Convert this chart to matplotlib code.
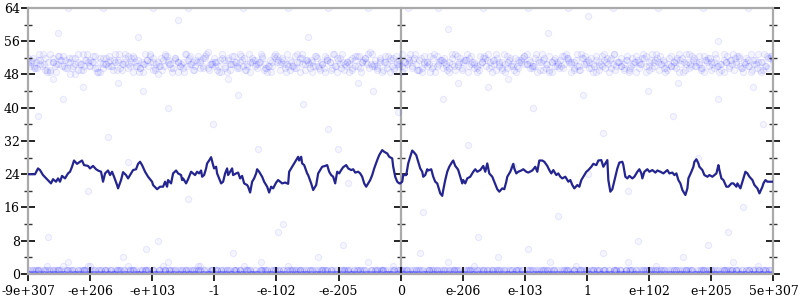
import numpy as np
import matplotlib
matplotlib.use("Agg")
import matplotlib.pyplot as plt

plt.rcParams['font.family'] = ['DejaVu Serif']

# x is a bucket index (0..745) over the float range shown by the tick labels
x_labels = ["-9e+307", "-e+206", "-e+103", "-1", "-e-102", "-e-205", "0",
            "e-206", "e-103", "1", "e+102", "e+205", "5e+307"]
x_max = 745

# running line
line_x = [0, 7, 10, 12, 15, 19, 23, 25, 28, 30,
          32, 34, 37, 40, 42, 44, 46, 49, 52, 54,
          56, 60, 62, 65, 68, 70, 73, 75, 77, 80,
          82, 84, 86, 89, 90, 93, 95, 98, 100, 103,
          105, 108, 110, 112, 114, 117, 120, 124, 125, 129,
          132, 135, 137, 139, 140, 143, 145, 148, 150, 153,
          154, 155, 158, 160, 163, 165, 167, 169, 171, 173,
          174, 176, 178, 179, 181, 183, 185, 186, 188, 189,
          191, 193, 195, 197, 199, 200, 202, 204, 205, 208,
          210, 212, 214, 216, 219, 220, 222, 224, 226, 228,
          229, 231, 234, 236, 239, 241, 243, 245, 248, 250,
          254, 257, 260, 261, 263, 265, 268, 270, 271, 273,
          274, 276, 279, 280, 283, 285, 288, 290, 292, 294,
          297, 299, 301, 303, 305, 307, 309, 311, 313, 315,
          318, 320, 323, 325, 327, 330, 332, 334, 336, 338,
          340, 342, 344, 346, 349, 351, 354, 356, 359, 361,
          364, 365, 367, 369, 371, 372, 374, 375, 378, 380,
          382, 384, 386, 388, 390, 392, 394, 395, 397, 399,
          400, 403, 405, 407, 409, 410, 412, 414, 415, 417,
          419, 421, 424, 425, 427, 429, 430, 432, 434, 435,
          437, 439, 442, 445, 447, 449, 452, 455, 457, 459,
          461, 464, 466, 469, 471, 474, 476, 478, 479, 482,
          485, 486, 488, 490, 493, 495, 498, 500, 504, 507,
          509, 511, 514, 516, 519, 521, 523, 525, 528, 530,
          532, 534, 537, 540, 542, 544, 546, 549, 551, 553,
          555, 558, 560, 563, 565, 568, 570, 573, 575, 577,
          579, 580, 582, 584, 585, 587, 589, 591, 594, 595,
          597, 599, 601, 604, 606, 609, 611, 613, 614, 616,
          619, 621, 624, 627, 629, 632, 635, 637, 639, 641,
          644, 646, 648, 650, 652, 654, 655, 657, 659, 660,
          663, 665, 666, 668, 670, 671, 674, 676, 679, 681,
          684, 686, 688, 690, 691, 693, 695, 698, 700, 703,
          705, 708, 709, 712, 715, 717, 719, 721, 724, 726,
          729, 731, 734, 735, 737, 739, 741, 745]
line_y = [24.0, 24.0, 25.4, 25.0, 23.8, 22.8, 21.8, 22.8, 22.2, 23.0,
          22.2, 23.6, 23.0, 24.2, 24.6, 25.8, 27.3, 26.5, 27.0, 27.3,
          26.2, 26.0, 25.4, 26.0, 25.2, 24.9, 24.6, 22.2, 24.2, 24.9,
          23.8, 24.6, 23.4, 21.4, 20.6, 22.6, 24.5, 23.8, 23.0, 24.2,
          25.0, 25.2, 26.5, 27.0, 26.2, 24.6, 23.4, 22.2, 21.4, 20.4,
          21.0, 21.0, 22.2, 21.0, 22.6, 21.8, 24.2, 24.9, 24.2, 23.8,
          22.6, 23.0, 21.8, 22.8, 24.6, 24.2, 23.8, 24.6, 24.2, 24.9,
          23.4, 23.8, 25.4, 26.6, 27.3, 28.1, 26.2, 25.4, 25.8, 24.2,
          23.0, 21.8, 22.2, 24.2, 25.4, 23.8, 24.6, 25.4, 23.8, 24.2,
          24.4, 23.0, 23.6, 21.8, 21.4, 21.0, 19.6, 22.2, 23.0, 24.2,
          25.2, 24.6, 23.4, 22.2, 21.0, 19.6, 21.0, 20.6, 22.0, 22.6,
          21.8, 22.0, 21.7, 24.6, 25.4, 26.2, 27.4, 28.2, 27.3, 28.2,
          26.6, 26.2, 24.2, 23.8, 21.8, 20.2, 21.4, 24.2, 25.0, 25.8,
          26.0, 26.2, 24.6, 23.8, 23.4, 21.8, 24.6, 24.2, 25.0, 25.7,
          26.2, 25.4, 25.0, 25.2, 24.4, 24.6, 24.2, 23.4, 21.8, 21.0,
          21.8, 22.6, 23.8, 25.4, 27.4, 28.6, 29.8, 29.4, 29.0, 28.2,
          27.8, 25.8, 23.4, 22.2, 21.8, 21.8, 22.2, 23.8, 23.8, 26.6,
          28.2, 29.7, 29.2, 28.6, 27.0, 25.4, 24.6, 23.4, 23.8, 25.2,
          24.9, 25.2, 23.4, 22.2, 21.8, 21.0, 19.4, 18.8, 20.2, 22.6,
          24.6, 25.8, 27.0, 27.3, 26.0, 25.4, 25.0, 23.4, 21.8, 22.6,
          21.8, 23.0, 23.4, 24.6, 25.2, 24.6, 25.0, 26.0, 24.6, 26.6,
          24.2, 23.4, 22.2, 20.4, 19.8, 20.6, 20.4, 22.2, 23.4, 24.6,
          26.5, 25.4, 24.2, 24.6, 24.9, 25.2, 24.6, 24.4, 24.9, 25.8,
          24.6, 27.3, 27.3, 27.0, 26.0, 25.0, 24.2, 25.0, 23.8, 24.2,
          23.4, 23.0, 23.4, 22.2, 22.6, 21.4, 20.6, 21.4, 21.0, 22.6,
          23.4, 24.6, 25.0, 25.8, 26.5, 26.2, 27.3, 27.4, 25.8, 26.6,
          27.4, 22.6, 19.8, 20.4, 21.4, 23.4, 25.4, 26.8, 27.0, 26.2,
          23.4, 23.0, 23.6, 23.0, 23.4, 24.6, 25.2, 24.2, 23.0, 24.6,
          25.2, 24.6, 25.0, 24.4, 24.9, 24.6, 24.2, 24.6, 25.0, 24.2,
          24.4, 23.8, 24.2, 22.6, 21.8, 20.2, 19.8, 19.0, 20.6, 23.0,
          24.6, 25.8, 27.0, 27.6, 26.6, 25.8, 25.0, 23.8, 23.4, 23.8,
          23.4, 23.8, 24.2, 26.2, 25.0, 23.0, 22.6, 21.0, 21.0, 21.8,
          21.8, 21.0, 21.8, 20.6, 23.0, 24.6, 24.2, 23.4, 22.6, 21.4,
          20.6, 19.4, 21.0, 21.8, 22.6, 22.2, 22.2, 22.2]

# upper cloud, one letter per point: 'a' = 45.0, each next letter +0.5
hi_a = ("mkojnlqimhoklnpjmgkoqlinmkpjhm"
        "olkniqmjlopkhmnjlqkmoigknpmljo"
        "hkmqnlikpmjorlmkinojhlpmkqnilm"
        "okjmplhnkqmiojlnkpmhqlnjmkoilp"
        "nmjkhoqlmnikpjmolrknjmhplokimn"
        "qjlmkoinhpmljqkmnoihlkpmjnqoml"
        "kimpnjhlokmqjnlikmoplnjkhmqoli"
        "mnkjplomhinkqlmjokpilnmhjqkmol"
        "nikmpjlohmnkqilmjopknhlmqjkoml"
        "ipnkmjohlqmknilpjmokhnlqmikjpo")
hi_b = ("lnjmqkohimlpnkjmogilqnkmpjhlom"
        "kniqlmjopkhmlnqijmokplhnmkjqol"
        "imnkpjlomhqknilmjpokhmnlqijkmo"
        "plnhkmjqolimnkpjlhomqknjimlopk"
        "hnmjqlkoimpnjlkhmoqnlijmkpohln"
        "mkjqilomnkpjhlmoqknimjlpokhnml"
        "qjkonmilphkmnjqolmkiopnjlhmkqo"
        "nlimkjphomnlqkijmopnhlkmjqoiml"
        "nkpjhmolqkinmjlopkhmnqljimkopn")
hi_c = ("omkjnliqmhpknojlmikqnmhojlpkmn"
        "iqlmokjhnpmlkiqnjomlhkpmnjoqil"
        "mkhnolpjmkiqnlmojkhpnmlqikjmon"
        "lhpkmjniqolmkhjnpmoqlkinmjhopl"
        "kmnjqiolmhkpnjlmoqkinhlmjpokmn"
        "qlihmkojnplmkqinjhmolkpnmjqiol"
        "mhnkpjloqmkinjlhmopkqnmljikmon"
        "hlqpkmjnoimklhpnqmojlkinmhqpom")

# lower cloud, one digit per point (value 0..3)
low_a = ("010011010210110010110100101102010011010010110110010100110110"
         "100102101001101011001011010010110100110110102011010010110110"
         "010100110101101001011011001010011011010010110100110110010011"
         "101001011010011010010110110100101100101101001011010011010010"
         "011010010110100101101001011010011011001010110100101101001101"
         "100101101001011010011010110100101001101101001011010010110100")
low_b = ("101001101100101102010110100110101001011010011010211010010110"
         "100101101101001010110102011010010110100110101101001011010010"
         "110100111010010110100101101001011010010110100101101101001011"
         "010010110100110101101001011010010110100101100101101001011010"
         "001101001011010010110101001101001011010010110100101101001011"
         "011010010110100101101001011010010110110100101001011010010110")
low_c = ("000100010000100001000010000100000100010000100001000001000010"
         "000100001000001000010001000010000010000100001000010001000010"
         "001000010000100000100010000100001000001000100001000010000100"
         "010000100001000001000010001000010000100000100001000100001000"
         "100001000010001000010000100000100010000100001000010000010000")
low_d = ("001010000100100010000101000010010000100010100001001000010100"
         "010000100100001010000100010010000101000100001001010000100010"
         "100001001000101000010010000100101000010001001000010100001001"
         "000100101000010010001000010100010000100100001010000100010010"
         "010000101000100100001000101000010010000100101000100001001000")

# scattered points away from the two clouds
out_x = [40, 62, 95, 118, 140, 170, 205, 233, 260, 290, 315, 340, 365, 392,
         420, 446, 470, 500, 522, 548, 575, 600, 628, 655, 680, 705, 730,
         20, 130, 250, 450, 610, 700,
         10, 35, 55, 80, 100, 115, 140, 160, 185, 210, 230, 255, 275, 300,
         320, 345, 370, 395, 415, 440, 460, 485, 505, 530, 555, 575, 600,
         620, 645, 670, 690, 715, 735, 90, 200, 330, 480, 650, 60, 310, 560,
         725, 25, 430,
         30, 150, 280, 420, 560, 690, 110, 520,
         40, 75, 125, 160, 215, 260, 300, 340, 380, 410, 455, 500, 540, 585,
         630, 675, 720]
out_y = [3, 2, 4, 6, 3, 2, 5, 3, 2, 4, 7, 3, 2, 5,
         3, 2, 4, 6, 3, 2, 5, 3, 2, 4, 7, 3, 2,
         9, 8, 10, 9, 8, 10,
         38, 42, 45, 33, 27, 44, 40, 18, 36, 43, 30, 12, 41, 35,
         22, 44, 39, 15, 42, 31, 45, 26, 40, 14, 43, 34, 20,
         44, 38, 28, 42, 16, 36, 46, 47, 46, 47, 46, 20, 30, 24,
         45, 47, 46,
         58, 61, 57, 59, 62, 56, 57, 58,
         64, 64, 64, 64, 64, 64, 64, 64, 64, 64, 64, 64, 64, 64,
         64, 64, 64]

x_ticks = np.linspace(0, x_max, len(x_labels))
y_major = np.arange(0, 65, 8)
y_minor = np.arange(0, 65, 4)

fig = plt.figure(figsize=(8, 3), dpi=100)
ax = fig.add_axes([0.035, 0.0867, 0.9318, 0.8867])

face = (0, 0, 1, 0.04)
edge = (0, 0, 1, 0.08)


def cloud(ys):
    ax.scatter(np.linspace(0, x_max, len(ys)), ys, s=20, facecolors=face,
               edgecolors=edge, linewidths=0.8, zorder=1)


for s in [hi_a, hi_b, hi_c]:
    cloud(45 + 0.5 * np.array([ord(c) - ord('a') for c in s]))
for s in [low_a, low_b, low_c, low_d]:
    cloud(np.array(list(s), dtype=float))
ax.scatter(out_x, out_y, s=20, facecolors=face, edgecolors=edge,
           linewidths=0.8, zorder=1)

ax.plot(line_x, line_y, color='#25258f', lw=1.6, zorder=3)

ax.set_xlim(0, x_max)
ax.set_ylim(0, 64)
ax.set_xticks(x_ticks)
ax.set_xticklabels(x_labels)
ax.set_yticks(y_major)
ax.set_yticks(y_minor, minor=True)

for sp in ax.spines.values():
    sp.set_color('#aaaaaa')
    sp.set_linewidth(1.6)

ax.tick_params(axis='both', which='major', direction='inout', length=10,
               width=1.2, color='black', labelsize=9, pad=1)
ax.tick_params(axis='x', which='major', pad=3)
ax.tick_params(axis='y', which='both', right=True)
ax.tick_params(axis='y', which='minor', direction='inout', length=6,
               width=1, color='#333333')

# middle axis at zero
mid = ax.secondary_yaxis(0.5)
mid.set_yticks(y_major)
mid.set_yticks(y_minor, minor=True)
mid.tick_params(axis='y', which='both', labelleft=False, labelright=False,
                left=False, right=True)
mid.tick_params(axis='y', which='major', direction='inout', length=10,
                width=1.2, color='black')
mid.tick_params(axis='y', which='minor', direction='inout', length=6,
                width=1, color='#333333')
for sp in mid.spines.values():
    sp.set_color('#aaaaaa')
    sp.set_linewidth(1.6)

fig.savefig('out.png', dpi=100, facecolor='white')
